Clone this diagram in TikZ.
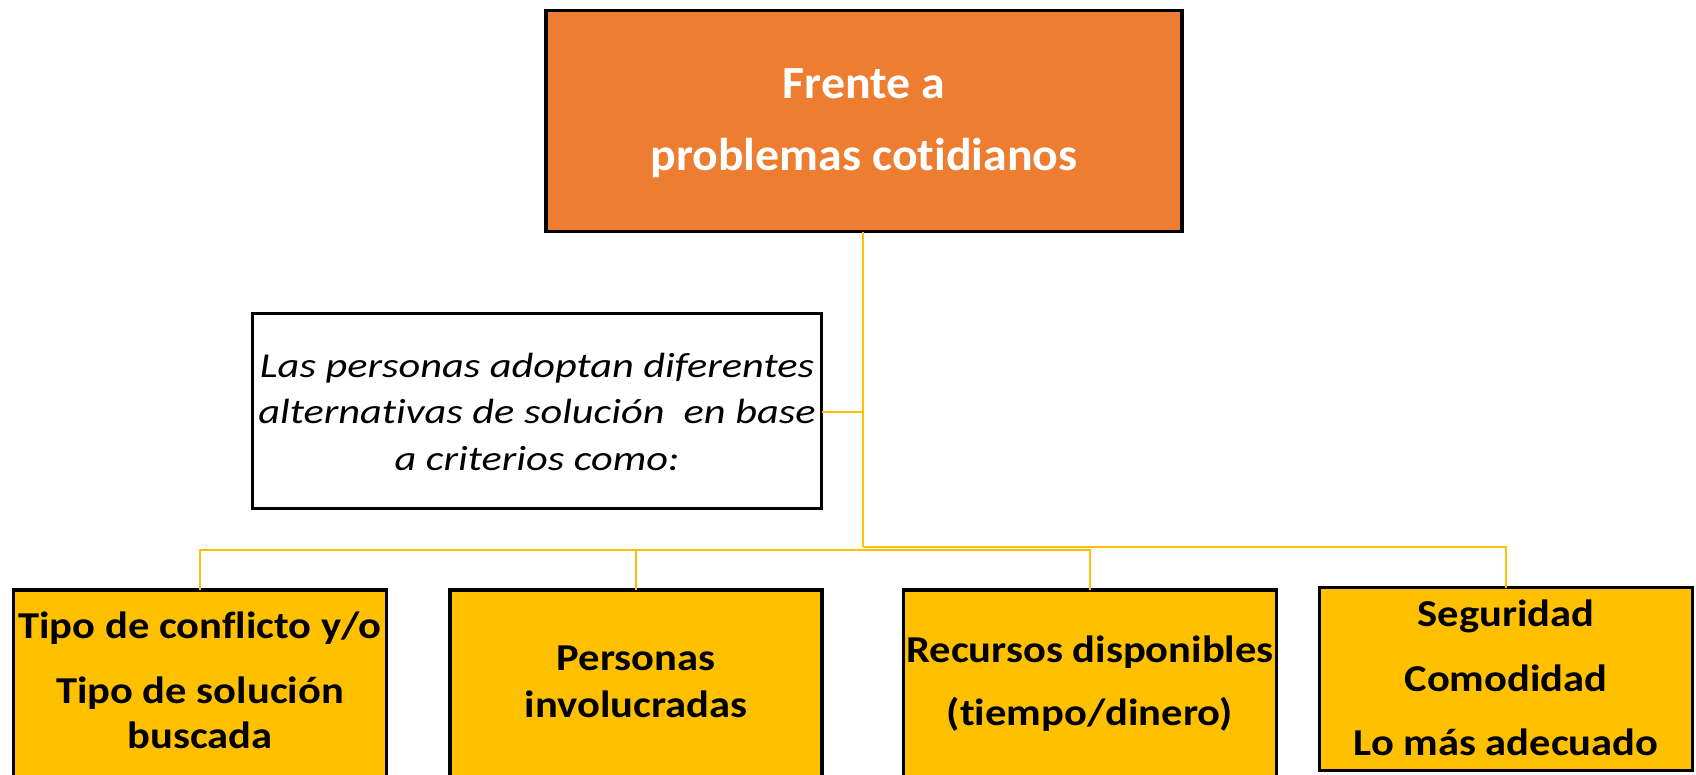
\documentclass[tikz,border=0pt]{standalone}
\usepackage{fontspec}
\setmainfont{Carlito}
\newfontfamily\topfont[FakeStretch=1.04,Ligatures=NoCommon]{Carlito}
\newfontfamily\midfont[FakeStretch=1.21,Ligatures=NoCommon]{Carlito}
\newfontfamily\botfont[FakeStretch=1.12,Ligatures=NoCommon]{Carlito}
\definecolor{orng}{HTML}{ED7D31}
\definecolor{yel}{HTML}{FFC000}
\begin{document}
\begin{tikzpicture}[x=1pt,y=-1pt,
  box/.style={draw=black,line width=3.5pt,rectangle,inner sep=0pt,outer sep=0pt},
  conn/.style={draw=yel,line width=2.5pt},
  toptxt/.style={font=\topfont\bfseries\fontsize{46}{54}\selectfont,text=white,anchor=base,inner sep=0pt},
  midtxt/.style={font=\midfont\itshape\fontsize{35}{40}\selectfont,text=black,anchor=base,inner sep=0pt},
  bottxt/.style={font=\botfont\bfseries\fontsize{38}{44}\selectfont,text=black,anchor=base,inner sep=0pt}]
\clip (0,0) rectangle (1696,774);
\fill[white] (0,0) rectangle (1696,774);
% boxes
\node[box,fill=orng,minimum width=636pt,minimum height=221pt] (top) at (864,121) {};
\node[box,fill=white,minimum width=569pt,minimum height=195pt] (mid) at (537,411) {};
\node[box,fill=yel,minimum width=373pt,minimum height=240pt] (b1) at (200,710) {};
\node[box,fill=yel,minimum width=372pt,minimum height=240pt] (b2) at (636,710) {};
\node[box,fill=yel,minimum width=373pt,minimum height=240pt] (b3) at (1090,710) {};
\node[box,fill=yel,minimum width=373pt,minimum height=183pt] (b4) at (1506,679) {};
% texts
\node[toptxt] (t1) at (864,98) {Frente a};
\node[toptxt] (t2) at (864,170) {problemas cotidianos};
\node[midtxt] (m1) at (537,377) {Las personas adoptan diferentes};
\node[midtxt] (m2) at (537,423) {alternativas de solución\ \ en base};
\node[midtxt] (m3) at (537,470) {a criterios como:};
\node[bottxt] (a1) at (200,638) {Tipo de conflicto y/o};
\node[bottxt] (a2) at (200,703) {Tipo de solución};
\node[bottxt] (a3) at (200,748) {buscada};
\node[bottxt] (c1) at (636,670) {Personas};
\node[bottxt] (c2) at (636,717) {involucradas};
\node[bottxt] (d1) at (1090,662) {Recursos disponibles};
\node[bottxt] (d2) at (1090,725) {(tiempo/dinero)};
\node[bottxt] (e1) at (1506,626) {Seguridad};
\node[bottxt] (e2) at (1506,691) {Comodidad};
\node[bottxt] (e3) at (1506,755) {Lo más adecuado};
% connectors
\coordinate (jt) at (863,547);
\coordinate (jm) at (863,412);
\coordinate (l1) at (200,550);
\coordinate (l2) at (636,550);
\coordinate (l3) at (1090,550);
\coordinate (r4) at (1506,547);
\draw[conn] (top.south -| jt) -- (jt);
\draw[conn] (mid.east |- jm) -- (jm);
\draw[conn] (b1.north) -- (l1) -- (l3) -- (b3.north);
\draw[conn] (l2) -- (b2.north);
\draw[conn] (jt) -- (r4) -- (b4.north);
\end{tikzpicture}
\end{document}
